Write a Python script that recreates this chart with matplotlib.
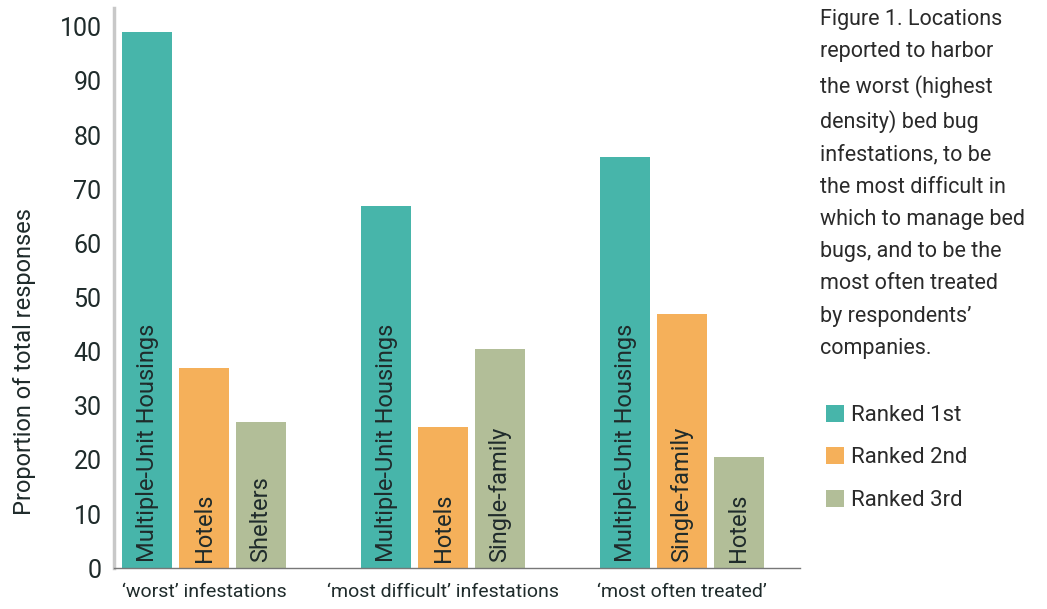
import numpy as np
import matplotlib.pyplot as plt

plt.rcParams['font.family'] = ['Roboto', 'DejaVu Sans']

groups = ["\u2018worst\u2019 infestations", "\u2018most difficult\u2019 infestations", "\u2018most often treated\u2019"]
ranks = ["Ranked 1st", "Ranked 2nd", "Ranked 3rd"]
rank1 = [99, 67, 76]
rank2 = [37, 26, 47]
rank3 = [27, 40.5, 20.5]
names1 = ["Multiple-Unit Housings", "Multiple-Unit Housings", "Multiple-Unit Housings"]
names2 = ["Hotels", "Hotels", "Single-family"]
names3 = ["Shelters", "Single-family", "Hotels"]
colors = ["#47b5aa", "#f5b05a", "#b2be98"]

caption = ("Figure 1. Locations\nreported to harbor\nthe worst (highest\ndensity) bed bug\n"
           "infestations, to be\nthe most difficult in\nwhich to manage bed\nbugs, and to be the\n"
           "most often treated\nby respondents\u2019\ncompanies.")

fig = plt.figure(figsize=(10.47, 6.09), dpi=100)
ax = fig.add_axes([0.109, 0.067, 0.655, 0.92])

x = np.arange(len(groups))
pitch = 0.238
width = 0.209
txt = "#1f2b2b"
for k, (vals, names) in enumerate([(rank1, names1), (rank2, names2), (rank3, names3)]):
    pos = x + (k - 1) * pitch
    ax.bar(pos, vals, width, color=colors[k], label=ranks[k])
    for p, n in zip(pos, names):
        ax.text(p, 1.2, n, rotation=90, ha='center', va='bottom', fontsize=17, color=txt)

ax.set_xlim(-0.377, 2.494)
ax.set_ylim(0, 103.5)
ax.set_yticks(range(0, 101, 10))
ax.set_xticks(x)
ax.set_xticklabels(groups, fontsize=14, color=txt)
ax.tick_params(axis='y', labelsize=18, length=0, pad=9, colors=txt)
ax.tick_params(axis='x', length=0, pad=11)
for s in ['top', 'right']:
    ax.spines[s].set_visible(False)
ax.spines['left'].set_color('#c8c8c8')
ax.spines['left'].set_linewidth(2.5)
ax.spines['bottom'].set_color('#777777')
ax.spines['bottom'].set_linewidth(1)
ax.set_ylabel("Proportion of total responses", fontsize=17, color=txt)
ax.yaxis.set_label_coords(-0.114, 0.368)

fig.text(0.783, 0.985, caption, ha='left', va='top', fontsize=15.5, color='#2a2a2a', linespacing=1.7)
fig.legend(*ax.get_legend_handles_labels(), loc='upper left', bbox_to_anchor=(0.77, 0.368),
           frameon=False, fontsize=16, handlelength=0.8, handleheight=0.8, handletextpad=0.3,
           labelspacing=0.95, labelcolor='#2a2a2a')

fig.savefig("out.png", dpi=100)
